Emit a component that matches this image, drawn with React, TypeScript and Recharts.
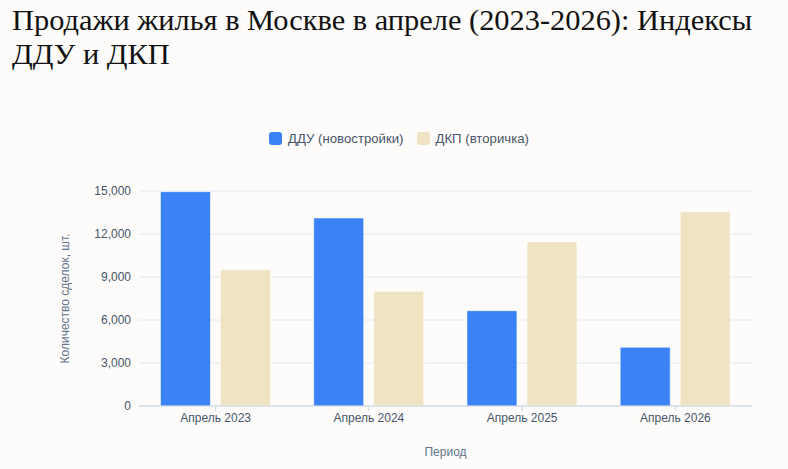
import { Bar, BarChart, CartesianGrid, XAxis, YAxis } from "recharts";

const PERIODS = ["Апрель 2023", "Апрель 2024", "Апрель 2025", "Апрель 2026"];
const DDU = [14950, 13120, 6650, 4100];
const DKP = [9500, 8000, 11450, 13550];
const Y_TICKS = [0, 3000, 6000, 9000, 12000, 15000];

const SERIES = [
  { key: "ddu", name: "ДДУ (новостройки)", color: "#3b82f6" },
  { key: "dkp", name: "ДКП (вторичка)", color: "#f0e3c2" },
];

const DATA = PERIODS.map((p, i) => ({ period: p, ddu: DDU[i], dkp: DKP[i] }));

const SANS = "'Liberation Sans', Arial, sans-serif";

export default function App() {
  return (
    <div style={{ position: "fixed", inset: 0, background: "#fdfcfb", overflow: "hidden" }}>
      <div
        style={{
          position: "absolute",
          left: 12,
          top: 3,
          width: 770,
          fontFamily: "'Liberation Serif', 'Times New Roman', serif",
          fontSize: 30.4,
          lineHeight: "34px",
          color: "#111",
        }}
      >
        Продажи жилья в Москве в апреле (2023-2026): Индексы ДДУ и ДКП
      </div>

      <div
        style={{
          position: "absolute",
          top: 131,
          left: 0,
          width: 798,
          display: "flex",
          justifyContent: "center",
          gap: 13,
          fontFamily: SANS,
          fontSize: 13.2,
          color: "#475569",
        }}
      >
        {SERIES.map((s) => (
          <span key={s.key} style={{ display: "flex", alignItems: "center", gap: 6 }}>
            <span
              style={{ width: 13, height: 13, borderRadius: 3, background: s.color, display: "inline-block" }}
            />
            {s.name}
          </span>
        ))}
      </div>

      <div style={{ position: "absolute", left: 0, top: 0 }}>
        <BarChart
          width={788}
          height={469}
          data={DATA}
          margin={{ top: 191, right: 36, left: 59, bottom: 13 }}
          barCategoryGap="14%"
          barGap={10}
        >
          <CartesianGrid vertical={false} stroke="#e2e8f0" strokeWidth={1} />
          <XAxis
            dataKey="period"
            height={50}
            stroke="#cbd5e1"
            tick={{ fontSize: 12, fill: "#475569", fontFamily: SANS }}
            tickSize={5}
            label={{
              value: "Период",
              position: "insideBottom",
              offset: 0,
              style: { fontSize: 12, fill: "#64748b", fontFamily: SANS },
            }}
          />
          <YAxis
            width={80}
            domain={[0, 15000]}
            ticks={Y_TICKS}
            axisLine={false}
            tickLine={false}
            tickFormatter={(v: number) => v.toLocaleString("en-US")}
            tick={{ fontSize: 12, fill: "#475569", fontFamily: SANS }}
            label={{
              value: "Количество сделок, шт.",
              angle: -90,
              position: "insideLeft",
              offset: 6,
              style: { textAnchor: "middle", fontSize: 12, fill: "#64748b", fontFamily: SANS },
            }}
          />
          {SERIES.map((s) => (
            <Bar
              key={s.key}
              dataKey={s.key}
              name={s.name}
              fill={s.color}
              stroke="#ffffff"
              strokeOpacity={0.55}
              strokeWidth={1}
              isAnimationActive={false}
            />
          ))}
        </BarChart>
      </div>
    </div>
  );
}
